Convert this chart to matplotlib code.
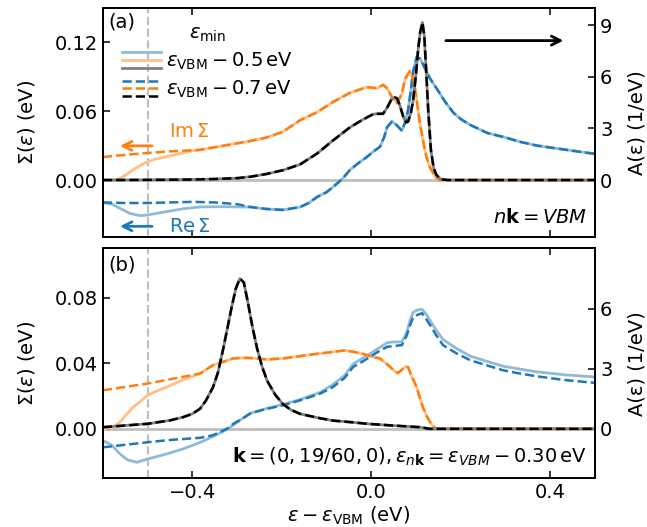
import numpy as np
import matplotlib
matplotlib.use("Agg")
import matplotlib.pyplot as plt
from matplotlib.lines import Line2D
from matplotlib.legend_handler import HandlerBase

plt.rcParams['font.family'] = ['DejaVu Sans']
plt.rcParams['font.size'] = 14
plt.rcParams['mathtext.fontset'] = 'dejavusans'

# ---------------- panel (a): n k = VBM ----------------
# Im Sigma, eps_min = eps_VBM - 0.7 eV (dashed)
a_im07_x = [-0.6, -0.55, -0.5, -0.45, -0.383, -0.33, -0.271, -0.235, -0.198, -0.16, -0.122, -0.086,
            -0.048, -0.01, 0.013, 0.026, 0.035, 0.046, 0.057, 0.068, 0.075, 0.086, 0.094, 0.101,
            0.108, 0.115, 0.123, 0.131, 0.142, 0.153, 0.2, 0.5]
a_im07_y = [0.0200, 0.0220, 0.0236, 0.0250, 0.0263, 0.030, 0.034, 0.037, 0.042, 0.052, 0.059, 0.068,
            0.076, 0.081, 0.080, 0.083, 0.080, 0.072, 0.067, 0.075, 0.088, 0.095, 0.088, 0.070,
            0.050, 0.035, 0.020, 0.011, 0.003, 0.0, 0.0, 0.0]
# Im Sigma, eps_min = eps_VBM - 0.5 eV (solid)
a_im05_x = [-0.6, -0.58, -0.565, -0.55, -0.533, -0.515, -0.5, -0.48, -0.457, -0.43, -0.4, -0.383,
            -0.33, -0.271, -0.235, -0.198, -0.16, -0.122, -0.086, -0.048, -0.01, 0.013, 0.026, 0.035,
            0.046, 0.057, 0.068, 0.075, 0.086, 0.094, 0.101, 0.108, 0.115, 0.123, 0.131, 0.142,
            0.153, 0.2, 0.5]
a_im05_y = [0.0, 0.0, 0.001, 0.004, 0.0088, 0.013, 0.016, 0.0185, 0.0205, 0.0228, 0.0255, 0.0263,
            0.030, 0.034, 0.037, 0.042, 0.052, 0.059, 0.068, 0.076, 0.081, 0.080, 0.083, 0.080,
            0.072, 0.067, 0.075, 0.088, 0.095, 0.088, 0.070, 0.050, 0.035, 0.020, 0.011, 0.003,
            0.0, 0.0, 0.0]
# Re Sigma, eps_min = eps_VBM - 0.7 eV (dashed)
a_re07_x = [-0.6, -0.55, -0.5, -0.45, -0.4, -0.35, -0.3, -0.271, -0.235, -0.198, -0.16, -0.14, -0.122,
            -0.1, -0.086, -0.065, -0.048, -0.03, -0.01, 0.005, 0.019, 0.028, 0.035, 0.046, 0.056,
            0.068, 0.075, 0.082, 0.088, 0.093, 0.101, 0.108, 0.115, 0.13, 0.147, 0.165, 0.183,
            0.2, 0.221, 0.24, 0.259, 0.3, 0.332, 0.37, 0.406, 0.45, 0.5]
a_re07_y = [-0.0195, -0.020, -0.020, -0.0195, -0.019, -0.0195, -0.021, -0.0234, -0.0252, -0.026,
            -0.0236, -0.020, -0.0149, -0.0105, -0.0061, 0.001, 0.0088, 0.0145, 0.0202, 0.025, 0.029,
            0.037, 0.046, 0.051, 0.048, 0.043, 0.050, 0.061, 0.078, 0.094, 0.107, 0.106, 0.101,
            0.089, 0.079, 0.068, 0.0587, 0.053, 0.048, 0.0445, 0.041, 0.037, 0.0333, 0.030, 0.028,
            0.0255, 0.0228]
# Re Sigma, eps_min = eps_VBM - 0.5 eV (solid)
a_re05_x = [-0.6, -0.58, -0.56, -0.54, -0.517, -0.5, -0.48, -0.45, -0.42, -0.383, -0.33, -0.271,
            -0.235, -0.198, -0.16, -0.14, -0.122, -0.1, -0.086, -0.065, -0.048, -0.03, -0.01, 0.005,
            0.019, 0.028, 0.035, 0.046, 0.056, 0.068, 0.075, 0.082, 0.088, 0.093, 0.101, 0.108,
            0.115, 0.13, 0.147, 0.165, 0.183, 0.2, 0.221, 0.24, 0.259, 0.3, 0.332, 0.37, 0.406,
            0.45, 0.5]
a_re05_y = [-0.0195, -0.021, -0.025, -0.029, -0.031, -0.0305, -0.029, -0.027, -0.025, -0.0234,
            -0.0232, -0.0236, -0.0252, -0.026, -0.0236, -0.020, -0.0149, -0.0105, -0.0061, 0.001,
            0.0088, 0.0145, 0.0202, 0.025, 0.029, 0.037, 0.046, 0.051, 0.048, 0.043, 0.050, 0.061,
            0.078, 0.094, 0.107, 0.106, 0.101, 0.089, 0.079, 0.068, 0.0587, 0.053, 0.048, 0.0445,
            0.041, 0.037, 0.0333, 0.030, 0.028, 0.0255, 0.0228]
# Spectral function A (both eps_min give the same curve)
a_A_x = [-0.6, -0.5, -0.4, -0.35, -0.3, -0.271, -0.235, -0.198, -0.16, -0.122, -0.086, -0.048, -0.02,
         0.004, 0.015, 0.026, 0.035, 0.045, 0.052, 0.057, 0.064, 0.072, 0.078, 0.082, 0.088, 0.093,
         0.099, 0.104, 0.109, 0.114, 0.118, 0.122, 0.127, 0.133, 0.139, 0.145, 0.155, 0.17, 0.5]
a_A05_y = [0.0, 0.01, 0.03, 0.06, 0.11, 0.19, 0.35, 0.57, 0.9, 1.53, 2.3, 3.06, 3.5, 3.83, 3.85,
           3.85, 4.2, 4.7, 4.8, 4.75, 4.3, 3.6, 3.35, 3.4, 3.9, 4.6, 6.0, 7.5, 8.6, 9.15, 8.4, 6.5,
           4.0, 1.7, 0.7, 0.3, 0.05, 0.0, 0.0]
a_A07_y = [0.0, 0.01, 0.03, 0.06, 0.11, 0.19, 0.35, 0.57, 0.9, 1.53, 2.3, 3.06, 3.5, 3.83, 3.85,
           3.85, 4.2, 4.7, 4.8, 4.75, 4.3, 3.6, 3.35, 3.4, 3.9, 4.6, 6.0, 7.5, 8.6, 9.15, 8.4, 6.5,
           4.0, 1.7, 0.7, 0.3, 0.05, 0.0, 0.0]

# ---------------- panel (b): k = (0, 19/60, 0) ----------------
b_im07_x = [-0.6, -0.5, -0.45, -0.383, -0.354, -0.33, -0.309, -0.29, -0.271, -0.233, -0.198, -0.16,
            -0.12, -0.086, -0.06, -0.041, -0.02, -0.003, 0.019, 0.032, 0.042, 0.052, 0.059, 0.068,
            0.076, 0.082, 0.09, 0.101, 0.108, 0.115, 0.123, 0.131, 0.14, 0.146, 0.5]
b_im07_y = [0.0235, 0.0276, 0.0302, 0.0337, 0.0388, 0.041, 0.0429, 0.0433, 0.0432, 0.0423, 0.0429,
            0.0443, 0.0458, 0.0469, 0.0478, 0.047, 0.0458, 0.0443, 0.0429, 0.040, 0.0377, 0.035,
            0.034, 0.036, 0.038, 0.0375, 0.032, 0.0255, 0.019, 0.0132, 0.008, 0.004, 0.001, 0.0, 0.0]
b_im05_x = [-0.6, -0.58, -0.562, -0.548, -0.533, -0.515, -0.5, -0.48, -0.457, -0.42, -0.383, -0.354,
            -0.33, -0.309, -0.29, -0.271, -0.233, -0.198, -0.16, -0.12, -0.086, -0.06, -0.041, -0.02,
            -0.003, 0.019, 0.032, 0.042, 0.052, 0.059, 0.068, 0.076, 0.082, 0.09, 0.101, 0.108, 0.115,
            0.123, 0.131, 0.14, 0.146, 0.5]
b_im05_y = [0.0, 0.0005, 0.004, 0.0085, 0.013, 0.017, 0.0204, 0.023, 0.0255, 0.030, 0.0337, 0.0388,
            0.041, 0.0429, 0.0433, 0.0432, 0.0423, 0.0429, 0.0443, 0.0458, 0.0469, 0.0478, 0.047,
            0.0458, 0.0443, 0.0429, 0.040, 0.0377, 0.035, 0.034, 0.036, 0.038, 0.0375, 0.032, 0.0255,
            0.019, 0.0132, 0.008, 0.004, 0.001, 0.0, 0.0]
b_re07_x = [-0.6, -0.5, -0.45, -0.383, -0.355, -0.338, -0.32, -0.309, -0.29, -0.271, -0.25, -0.233,
            -0.198, -0.16, -0.115, -0.086, -0.06, -0.041, -0.02, -0.003, 0.015, 0.035, 0.05, 0.068,
            0.079, 0.086, 0.093, 0.103, 0.113, 0.122, 0.131, 0.145, 0.16, 0.19, 0.221, 0.26, 0.294,
            0.33, 0.37, 0.43, 0.5]
b_re07_y = [-0.0113, -0.0082, -0.0068, -0.0055, -0.004, -0.002, 0.0005, 0.003, 0.006, 0.0092, 0.011,
            0.0122, 0.0143, 0.0173, 0.0214, 0.0255, 0.031, 0.0377, 0.041, 0.0439, 0.047, 0.050,
            0.0505, 0.051, 0.057, 0.063, 0.068, 0.0695, 0.0705, 0.067, 0.0633, 0.057, 0.051, 0.046,
            0.0418, 0.0385, 0.0357, 0.0338, 0.032, 0.0298, 0.028]
b_re05_x = [-0.6, -0.58, -0.562, -0.545, -0.524, -0.5, -0.46, -0.421, -0.38, -0.345, -0.32, -0.3,
            -0.271, -0.233, -0.198, -0.16, -0.115, -0.086, -0.06, -0.041, -0.02, -0.003, 0.015, 0.035,
            0.05, 0.068, 0.079, 0.086, 0.093, 0.103, 0.113, 0.122, 0.131, 0.145, 0.16, 0.19, 0.221,
            0.26, 0.294, 0.33, 0.37, 0.43, 0.5]
b_re05_y = [-0.0072, -0.010, -0.0153, -0.019, -0.0204, -0.0184, -0.0155, -0.0123, -0.008, -0.0035,
            0.0, 0.004, 0.0095, 0.0125, 0.0148, 0.0178, 0.0222, 0.027, 0.0325, 0.0395, 0.043, 0.0458,
            0.049, 0.0525, 0.053, 0.053, 0.059, 0.066, 0.071, 0.0725, 0.0729, 0.070, 0.066, 0.060,
            0.0545, 0.049, 0.0443, 0.041, 0.0382, 0.0365, 0.0347, 0.033, 0.0316]
b_A_x = [-0.6, -0.5, -0.45, -0.421, -0.4, -0.383, -0.37, -0.354, -0.343, -0.332, -0.322, -0.312,
         -0.303, -0.294, -0.285, -0.276, -0.266, -0.256, -0.245, -0.233, -0.215, -0.198, -0.18,
         -0.16, -0.12, -0.086, -0.04, -0.01, 0.05, 0.109, 0.13, 0.5]
b_A05_y = [0.08, 0.25, 0.42, 0.58, 0.75, 1.0, 1.4, 2.07, 2.8, 3.9, 5.0, 6.1, 7.0, 7.5, 7.3, 6.3, 5.1,
           4.06, 3.15, 2.4, 1.7, 1.24, 0.95, 0.75, 0.55, 0.41, 0.32, 0.25, 0.16, 0.08, 0.0, 0.0]
b_A07_y = [0.08, 0.25, 0.42, 0.58, 0.75, 1.0, 1.4, 2.07, 2.8, 3.9, 5.0, 6.1, 7.0, 7.5, 7.3, 6.3, 5.1,
           4.06, 3.15, 2.4, 1.7, 1.24, 0.95, 0.75, 0.55, 0.41, 0.32, 0.25, 0.16, 0.08, 0.0, 0.0]

eps_cut = -0.5
xlim = (-0.6, 0.5)
xticks = [-0.4, 0.0, 0.4]
a_yticks = [0.0, 0.06, 0.12]
a_Aticks = [0, 3, 6, 9]
b_yticks = [0.0, 0.04, 0.08]
b_Aticks = [0, 3, 6]
legend_labels = [r'$\varepsilon_{\mathrm{VBM}} - 0.5\,\mathrm{eV}$',
                 r'$\varepsilon_{\mathrm{VBM}} - 0.7\,\mathrm{eV}$']

BLUE = '#1f77b4'
ORANGE = '#ff7f0e'
LBLUE = '#8fbbd9'
LORANGE = '#ffbf86'
GRAY = '#808080'


class HandlerStack(HandlerBase):
    def create_artists(self, legend, orig_handle, xdescent, ydescent, width, height, fontsize, trans):
        arts = []
        gap = 0.40 * fontsize
        yc = height / 2 - ydescent
        for i, h in enumerate(orig_handle):
            y = yc + gap * (1 - i)
            ln = Line2D([-xdescent, -xdescent + width], [y, y], color=h.get_color(),
                        lw=h.get_linewidth(), ls=h.get_linestyle(), transform=trans)
            arts.append(ln)
        return arts


fig = plt.figure(figsize=(6.47, 5.27), dpi=100)
gs = fig.add_gridspec(2, 1, left=0.159, right=0.920, top=0.985, bottom=0.093, hspace=0.048)
axa = fig.add_subplot(gs[0])
axb = fig.add_subplot(gs[1], sharex=axa)
axa2 = axa.twinx()
axb2 = axb.twinx()

SLW = 2.0
DLW = 1.8

for ax, ax2, im05, im07, re05, re07, A05, A07 in [
        (axa, axa2, (a_im05_x, a_im05_y), (a_im07_x, a_im07_y), (a_re05_x, a_re05_y),
         (a_re07_x, a_re07_y), (a_A_x, a_A05_y), (a_A_x, a_A07_y)),
        (axb, axb2, (b_im05_x, b_im05_y), (b_im07_x, b_im07_y), (b_re05_x, b_re05_y),
         (b_re07_x, b_re07_y), (b_A_x, b_A05_y), (b_A_x, b_A07_y))]:
    ax.axhline(0, color='#bfbfbf', lw=2.0, zorder=0.5)
    ax.axvline(eps_cut, color='#c0c0c0', lw=1.6, ls='--', zorder=0.6)
    ax.plot(*re05, color=LBLUE, lw=SLW, zorder=2)
    ax.plot(*im05, color=LORANGE, lw=SLW, zorder=2)
    ax.plot(*re07, color=BLUE, lw=DLW, ls='--', zorder=3)
    ax.plot(*im07, color=ORANGE, lw=DLW, ls='--', zorder=3)
    ax2.plot(*A05, color=GRAY, lw=SLW, zorder=2)
    ax2.plot(*A07, color='black', lw=DLW, ls='--', zorder=3)
    ax.set_xlim(*xlim)
    ax.tick_params(direction='in', top=True, length=5, width=1.1, labelsize=14)
    ax2.tick_params(direction='in', length=5, width=1.1, labelsize=14)
    for sp in list(ax.spines.values()) + list(ax2.spines.values()):
        sp.set_linewidth(1.3)
    ax.set_ylabel(r'$\Sigma(\varepsilon)$ (eV)', fontsize=14, labelpad=13)
    ax2.set_ylabel('A(ε) (1/eV)', fontsize=14, labelpad=11)

axa.set_ylim(-0.05, 0.15)
axa2.set_ylim(-10 / 3, 10)
axa.set_yticks(a_yticks)
axa.set_yticklabels(['0.00', '0.06', '0.12'])
axa2.set_yticks(a_Aticks)
axb.set_ylim(-0.03, 0.11)
axb2.set_ylim(-0.03 / 0.11 * 9, 9)
axb.set_yticks(b_yticks)
axb.set_yticklabels(['0.00', '0.04', '0.08'])
axb2.set_yticks(b_Aticks)
axb.set_xticks(xticks)
axb.set_xticklabels(['−0.4', '0.0', '0.4'])
axa.tick_params(labelbottom=False)
axb.set_xlabel(r'$\varepsilon - \varepsilon_{\mathrm{VBM}}$ (eV)', fontsize=14, labelpad=2)

# panel labels
axa.text(0.012, 0.94, '(a)', transform=axa.transAxes, ha='left', va='center', fontsize=14)
axb.text(0.012, 0.926, '(b)', transform=axb.transAxes, ha='left', va='center', fontsize=14)
axa.text(0.984, 0.089, r'$n\mathbf{k} = VBM$', transform=axa.transAxes, ha='right', va='center',
         fontsize=14)
axb.text(0.984, 0.093,
         r'$\mathbf{k} = (0, 19/60, 0), \varepsilon_{n\mathbf{k}} = \varepsilon_{VBM} - 0.30\,\mathrm{eV}$',
         transform=axb.transAxes, ha='right', va='center', fontsize=14)

# arrows and labels in (a)
axa.annotate('', xy=(-0.568, 0.0298), xytext=(-0.484, 0.0298),
             arrowprops=dict(arrowstyle='->', color=ORANGE, lw=2, mutation_scale=16))
axa.text(-0.452, 0.042, r'$\mathrm{Im}\,\Sigma$', color=ORANGE, ha='left', va='center', fontsize=14)
axa.annotate('', xy=(-0.568, -0.0403), xytext=(-0.484, -0.0403),
             arrowprops=dict(arrowstyle='->', color=BLUE, lw=2, mutation_scale=16))
axa.text(-0.452, -0.0403, r'$\mathrm{Re}\,\Sigma$', color=BLUE, ha='left', va='center', fontsize=14)
axa2.annotate('', xy=(0.435, 8.1), xytext=(0.160, 8.1),
              arrowprops=dict(arrowstyle='->', color='black', lw=2, mutation_scale=16))

# legend
h05 = (Line2D([], [], color=LBLUE, lw=SLW), Line2D([], [], color=LORANGE, lw=SLW),
       Line2D([], [], color=GRAY, lw=SLW))
h07 = (Line2D([], [], color=BLUE, lw=DLW, ls='--'), Line2D([], [], color=ORANGE, lw=DLW, ls='--'),
       Line2D([], [], color='black', lw=DLW, ls='--'))
leg = axa.legend([h05, h07], legend_labels, handler_map={tuple: HandlerStack()},
                 title=r'$\varepsilon_{\min}$', title_fontsize=14, fontsize=14, frameon=False,
                 loc='upper left', bbox_to_anchor=(0.039, 0.93), borderaxespad=0, borderpad=0,
                 handlelength=2.0, handletextpad=0.25, labelspacing=0.35)

fig.savefig('out.png', dpi=100)
